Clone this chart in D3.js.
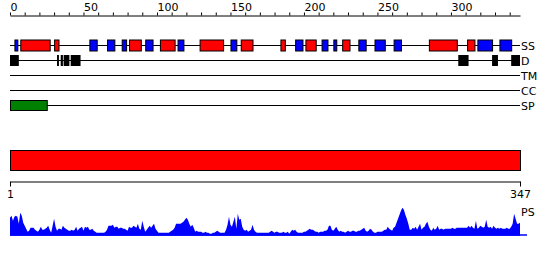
<!DOCTYPE html>
<html>
<head>
<meta charset="utf-8">
<script src="https://cdn.jsdelivr.net/npm/d3@7"></script>
<style>
  body { margin: 0; background: #fff; }
  text { font-family: "DejaVu Sans", Verdana, sans-serif; font-size: 11px; fill: #000; }
</style>
</head>
<body>
<svg id="chart" width="550" height="260"></svg>
<script>
// Sequenzlänge
const seqLength = 347;

// Sekundärstruktur: H = Helix (rot), E = Strang (blau)
const ssStart = [3, 7, 30, 54, 66, 76, 81, 92, 102, 114, 129, 150, 157, 184, 194, 201, 212, 220, 226, 237, 248, 261, 285, 311, 318, 333];
const ssEnd   = [5, 27, 33, 59, 71, 79, 89, 97, 112, 118, 145, 154, 165, 187, 199, 208, 216, 222, 231, 242, 255, 266, 304, 316, 328, 341];
const ssType  = ["E","H","H","E","E","E","H","E","H","E","H","E","H","H","E","H","E","E","H","E","E","E","H","H","E","E"];

// ungeordnete Bereiche
const dStart = [0, 32, 34.5, 36.5, 41.3, 305, 328, 341];
const dEnd   = [6, 33.3, 36, 40.4, 48, 312, 332, 347];

// Signalpeptid
const spStart = [0];
const spEnd   = [25];

// Spurnamen
const tracks = ["SS", "D", "TM", "CC", "SP"];

// Profilwerte (PS), ein Wert pro Position 0..347
const psVal = [
  18,20,15,19,20,19,12,23,20,13,10,7,4,5,8,8,8,6,5,4,6,9,6,6,7,8,10,6,3,10,
  17,9,5,7,7,6,10,8,7,6,5,5,6,5,6,9,5,7,8,9,5,9,8,9,6,6,7,5,4,3,
  3,3,3,3,3,4,6,10,10,10,11,8,9,9,7,8,8,7,7,6,5,9,8,8,10,9,8,12,7,6,
  15,9,4,6,8,10,8,10,12,7,5,3,3,3,3,3,3,3,3,4,5,6,8,12,12,12,12,13,14,16,
  18,16,12,9,11,8,4,5,4,4,4,3,3,4,3,3,2,2,3,3,4,5,4,3,3,3,3,6,11,19,
  11,9,14,19,7,22,16,17,9,6,5,6,4,5,6,11,6,4,3,3,3,3,3,3,3,3,3,4,5,4,
  3,4,4,3,3,3,4,3,3,4,2,4,6,5,6,4,3,3,3,3,4,4,5,6,7,6,6,5,4,4,
  3,4,4,4,5,5,6,10,10,6,5,7,9,6,4,5,4,4,3,4,5,4,4,5,5,4,4,5,5,6,
  7,8,5,4,5,7,6,4,3,3,4,4,4,4,5,6,6,9,7,6,5,8,9,13,17,21,25,28,26,21,
  17,12,6,6,8,7,9,6,9,12,6,8,9,12,14,9,6,5,8,6,7,10,6,7,7,6,7,7,7,7,
  7,8,7,7,8,8,8,8,8,8,8,8,10,8,10,8,7,15,7,8,10,9,8,9,16,9,8,9,7,10,
  8,7,8,7,8,7,7,7,8,7,7,9,12,22,17,12,12,13
];

// Farben
const colSS = { H: "#ff0000", E: "#0000ff" };

const svg = d3.select("#chart");

// x-Skala für Positionen
const x = d3.scaleLinear().domain([0, seqLength]).range([10, 520]);

// Achse oben
const topAxis = d3.axisTop(x)
  .tickValues(d3.range(0, 341, 10))
  .tickSize(3)
  .tickSizeOuter(0)
  .tickFormat(d => d % 50 === 0 ? d : "");
const gTop = svg.append("g").attr("transform", "translate(0,15.5)").call(topAxis);
gTop.selectAll("text").attr("text-anchor", "start").attr("y", -4.5)
  .style("font-family", "DejaVu Sans").style("font-size", "11px");
gTop.select(".domain").attr("stroke", "#000");

// Spuren (y-Mitte)
const yTrack = d3.scalePoint().domain(tracks).range([45.5, 105.5]);

tracks.forEach(t => {
  svg.append("line")
    .attr("x1", x(0)).attr("x2", x(seqLength))
    .attr("y1", yTrack(t)).attr("y2", yTrack(t))
    .attr("stroke", "#000").attr("stroke-width", 1);
  svg.append("text")
    .attr("x", 521).attr("y", yTrack(t) + 4.5)
    .text(t);
});

// Sekundärstruktur-Boxen
svg.append("g").selectAll("rect")
  .data(ssStart.map((s, i) => ({ s: s, e: ssEnd[i], t: ssType[i] })))
  .join("rect")
  .attr("x", d => x(d.s) + 0.5)
  .attr("y", yTrack("SS") - 5.5)
  .attr("width", d => x(d.e) - x(d.s))
  .attr("height", 11)
  .attr("fill", d => colSS[d.t])
  .attr("stroke", "#000");

// ungeordnete Bereiche
svg.append("g").selectAll("rect")
  .data(dStart.map((s, i) => ({ s: s, e: dEnd[i] })))
  .join("rect")
  .attr("x", d => x(d.s))
  .attr("y", yTrack("D") - 5.5)
  .attr("width", d => x(d.e) - x(d.s))
  .attr("height", 11)
  .attr("fill", "#000");

// Signalpeptid
svg.append("g").selectAll("rect")
  .data(spStart.map((s, i) => ({ s: s, e: spEnd[i] })))
  .join("rect")
  .attr("x", d => x(d.s) + 0.5)
  .attr("y", yTrack("SP") - 5)
  .attr("width", d => x(d.e) - x(d.s))
  .attr("height", 10)
  .attr("fill", "#008000")
  .attr("stroke", "#000");

// ganze Kette als roter Balken
svg.append("rect")
  .attr("x", x(0) + 0.5).attr("y", 150.5)
  .attr("width", x(seqLength) - x(0)).attr("height", 20)
  .attr("fill", "#ff0000").attr("stroke", "#000");

// Achse unten (nur Anfang und Ende)
const xb = d3.scaleLinear().domain([1, seqLength]).range([10, 520]);
const gBot = svg.append("g").attr("transform", "translate(0,181.5)")
  .call(d3.axisBottom(xb).tickValues([1, seqLength]).tickSize(5).tickSizeOuter(0));
gBot.selectAll("text").attr("y", 9).style("font-family", "DejaVu Sans").style("font-size", "11px");

// Profil
const yPs = d3.scaleLinear().domain([0, 30]).range([235.7, 205.7]);
const area = d3.area()
  .x((d, i) => x(i))
  .y0(235.7)
  .y1(d => yPs(d));
svg.append("path")
  .datum(psVal)
  .attr("d", area)
  .attr("fill", "#0000ff");
svg.append("line")
  .attr("x1", x(0)).attr("x2", 527)
  .attr("y1", 235).attr("y2", 235)
  .attr("stroke", "#0000ff").attr("stroke-width", 1.5);
svg.append("text").attr("x", 521).attr("y", 216).text("PS");
</script>
</body>
</html>
